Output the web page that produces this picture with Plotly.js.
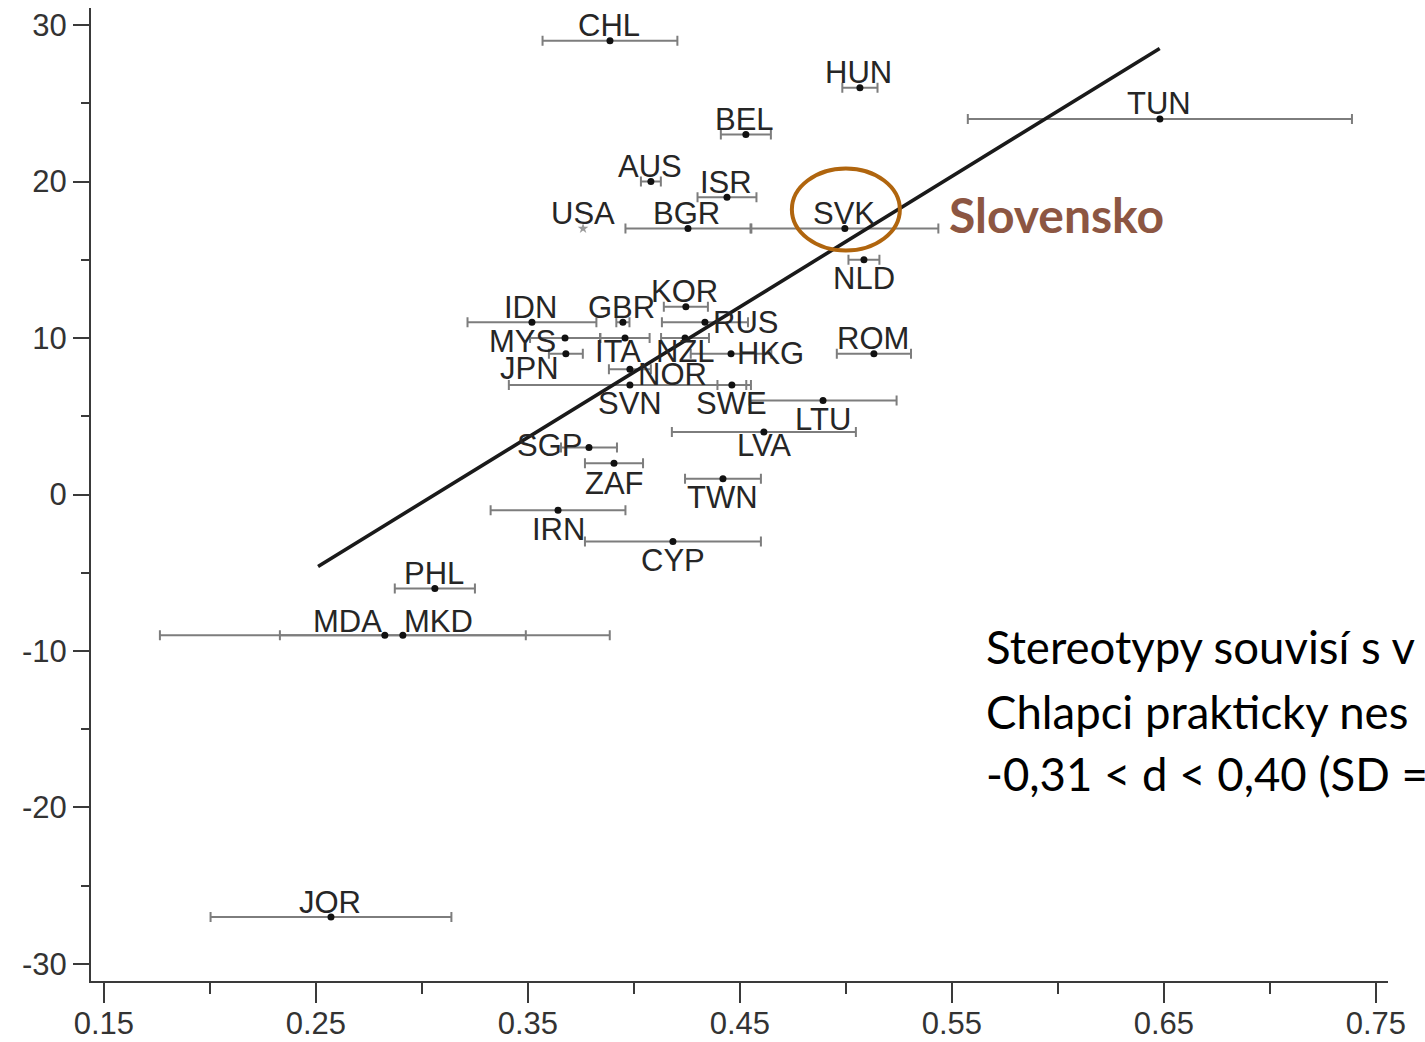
<!DOCTYPE html>
<html><head><meta charset="utf-8">
<script src="https://cdn.plot.ly/plotly-3.0.1.min.js"></script>
<style>html,body{margin:0;padding:0;background:#fff;overflow:hidden}</style>
</head><body><div id="chart" style="width:1425px;height:1042px"></div>
<script>
// Country data
const countries = ["CHL","HUN","TUN","BEL","AUS","ISR","BGR","SVK","NLD","KOR","IDN","GBR","RUS","MYS","ITA","NZL","JPN","HKG","ROM","NOR","SVN","SWE","LTU","LVA","SGP","ZAF","TWN","IRN","CYP","PHL","MDA","MKD","JOR"];
const xVals = [0.3887,0.5066,0.6481,0.4528,0.4080,0.4439,0.4255,0.4995,0.5085,0.4245,0.3519,0.3948,0.4335,0.3675,0.3958,0.4241,0.3679,0.4458,0.5132,0.3981,0.3981,0.4462,0.4892,0.4613,0.3788,0.3906,0.4420,0.3642,0.4184,0.3061,0.2825,0.2910,0.2571];
const yVals = [29,26,24,23,20,19,17,17,15,12,11,11,11,10,10,10,9,9,9,8,7,7,6,4,3,2,1,-1,-3,-6,-9,-9,-27];
const xErr  = [0.0318,0.0083,0.0906,0.0118,0.0047,0.0139,0.0295,0.0441,0.0073,0.0104,0.0304,0.0031,0.0203,0.0165,0.0116,0.0113,0.0080,0.0190,0.0175,0.0099,0.0571,0.0068,0.0347,0.0434,0.0132,0.0137,0.0179,0.0318,0.0415,0.0189,0.1061,0.0580,0.0568];
// USA (no interval shown)
const usaName = ["USA"];
const usaX = [0.376];
const usaY = [17];
// Regression line
const fitX = [0.251, 0.648];
const fitY = [-4.6, 28.5];
// Axis ticks
const xTicks = [0.15,0.25,0.35,0.45,0.55,0.65,0.75];
const xTickText = ["0.15","0.25","0.35","0.45","0.55","0.65","0.75"];
const yTicks = [30,20,10,0,-10,-20,-30];
const yTickText = ["30","20","10","0","-10","-20","-30"];
// Annotation texts
const highlightName = "SVK";
const highlightLabel = "Slovensko";
const noteLines = ["Stereotypy souvisí s v","Chlapci prakticky nes","-0,31 < d < 0,40 (SD ="];

// label placement style: [xanchor, xshift px, yshift px]
const ABOVE = ["center", -1, 15];
const BELOW = ["center", 0, -19];
const labelStyle = {
  RUS:["left", 6, 0], HKG:["left", 4, 0], NOR:["left", 6, -5],
  MYS:["right", -7, -3], SGP:["right", -5, 2], JPN:["right", -5, -15],
  MDA:["right", -1, 14], MKD:["left", -1, 14],
  ITA:["center", -7, -13], NZL:["center", 0, -13],
  NLD:BELOW, SVN:BELOW, SWE:BELOW, LTU:BELOW, LVA:["center", 0, -14], ZAF:["center", 0, -20],
  TWN:BELOW, IRN:BELOW, CYP:BELOW
};

const sansFamily = "Arial, Liberation Sans, Helvetica, sans-serif";
const labelFont = {family:sansFamily, size:31, color:"#262626"};

const traces = [
  {
    type:"scatter", mode:"markers", x:xVals, y:yVals,
    marker:{color:"#111", size:7},
    error_x:{type:"data", array:xErr, visible:true, color:"#7d7d7d", thickness:2, width:5},
    cliponaxis:false, hoverinfo:"skip", showlegend:false
  },
  {
    type:"scatter", mode:"markers", x:usaX, y:usaY,
    marker:{color:"#999", size:8, symbol:"star"},
    cliponaxis:false, hoverinfo:"skip", showlegend:false
  },
  {
    type:"scatter", mode:"lines", x:fitX, y:fitY,
    line:{color:"#1a1a1a", width:3.6}, hoverinfo:"skip", showlegend:false
  }
];

const iH = countries.indexOf(highlightName);
const noteFont = {family:"Lato, Open Sans, sans-serif", size:45.5, color:"#000"};

const labelAnns = countries.map((c, i) => {
  const s = labelStyle[c] || ABOVE;
  return {xref:"x", yref:"y", x:xVals[i], y:yVals[i], text:c, showarrow:false,
          xanchor:s[0], yanchor:"middle", xshift:s[1], yshift:s[2], font:labelFont};
});
usaName.forEach((c, i) => labelAnns.push({xref:"x", yref:"y", x:usaX[i], y:usaY[i], text:c,
  showarrow:false, xanchor:ABOVE[0], yanchor:"middle", xshift:0, yshift:ABOVE[2], font:labelFont}));

const layout = {
  width:1425, height:1042,
  margin:{l:91, r:37, t:8, b:61},
  paper_bgcolor:"#fff", plot_bgcolor:"#fff",
  xaxis:{
    range:[0.1439,0.7557], tickvals:xTicks, ticktext:xTickText,
    showgrid:false, zeroline:false, showline:true, linecolor:"#3a3a3a", linewidth:2,
    ticks:"outside", ticklen:20, tickwidth:2, tickcolor:"#3a3a3a", ticklabelstandoff:-6,
    minor:{dtick:0.05, tick0:0.15, ticks:"outside", ticklen:11, tickwidth:2, tickcolor:"#3a3a3a"},
    tickfont:{family:sansFamily, size:31, color:"#333"}
  },
  yaxis:{
    range:[-31.09,31.09], tickvals:yTicks, ticktext:yTickText,
    showgrid:false, zeroline:false, showline:true, linecolor:"#3a3a3a", linewidth:2,
    ticks:"outside", ticklen:16, tickwidth:2, tickcolor:"#3a3a3a",
    minor:{dtick:5, tick0:25, ticks:"outside", ticklen:8, tickwidth:2, tickcolor:"#3a3a3a"},
    tickfont:{family:sansFamily, size:31, color:"#333"}
  },
  shapes:[
    {type:"circle", xref:"x", yref:"y", xsizemode:"pixel", ysizemode:"pixel",
     xanchor:xVals[iH], yanchor:yVals[iH], x0:-53, x1:55, y0:-22, y1:60,
     line:{color:"#b0650e", width:4}}
  ],
  annotations: labelAnns.concat([
    {xref:"x", yref:"y", x:xVals[iH], y:yVals[iH], xshift:102, yshift:14,
     text:highlightLabel, showarrow:false, xanchor:"left", yanchor:"middle",
     font:{family:"Lato, Open Sans, sans-serif", size:48, color:"#8c5642", weight:700}},
    {xref:"paper", yref:"paper", x:0.6885, y:0.3442, text:noteLines[0], showarrow:false, xanchor:"left", yanchor:"middle", font:noteFont},
    {xref:"paper", yref:"paper", x:0.6885, y:0.2774, text:noteLines[1], showarrow:false, xanchor:"left", yanchor:"middle", font:noteFont},
    {xref:"paper", yref:"paper", x:0.6885, y:0.2137, text:noteLines[2], showarrow:false, xanchor:"left", yanchor:"middle", font:noteFont}
  ])
};

Plotly.newPlot("chart", traces, layout, {displayModeBar:false, staticPlot:true});
</script></body></html>
